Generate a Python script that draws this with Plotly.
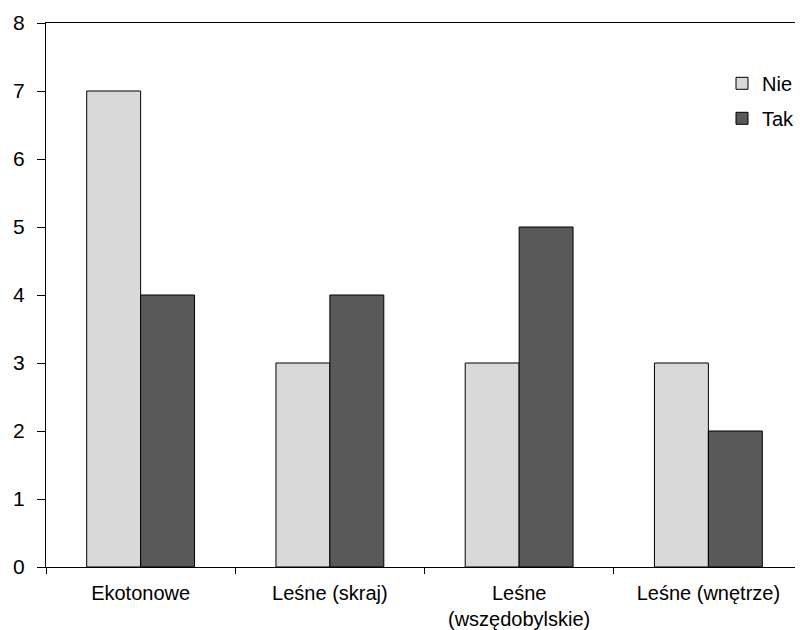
import plotly.graph_objects as go

categories = ["Ekotonowe", "Leśne (skraj)", "Leśne<br>(wszędobylskie)", "Leśne (wnętrze)"]
nie = [7, 3, 3, 3]
tak = [4, 4, 5, 2]
y_ticks = [0, 1, 2, 3, 4, 5, 6, 7, 8]

fig = go.Figure()
fig.add_trace(go.Bar(name="Nie", x=categories, y=nie, legendgroup="a",
                     marker=dict(color="#D9D9D9", line=dict(color="#000000", width=1))))
fig.add_trace(go.Bar(name="Tak", x=categories, y=tak, legendgroup="b",
                     marker=dict(color="#595959", line=dict(color="#000000", width=1))))

# page body has an 8px default margin, so the figure is sized to fit the window
fig.update_layout(
    width=795, height=622,
    margin=dict(l=38, r=0, t=15, b=63, autoexpand=False),
    paper_bgcolor="white", plot_bgcolor="white",
    barmode="group", bargap=0.43, bargroupgap=0,
    font=dict(family="Liberation Sans, Arial, sans-serif", color="#000000"),
    legend=dict(x=0.893, y=0.925, xanchor="left", yanchor="top",
                font=dict(size=20), bgcolor="rgba(0,0,0,0)", itemwidth=30,
                tracegroupgap=6),
    showlegend=True,
)
fig.update_xaxes(
    range=[-0.5, 3.5], showline=True, linecolor="black", linewidth=1, mirror=True,
    ticks="outside", tickson="boundaries", ticklen=6, tickcolor="black",
    tickfont=dict(size=20), showgrid=False, zeroline=False, automargin=False,
    ticklabelstandoff=8,
)
fig.update_yaxes(
    range=[0, 8], tickvals=y_ticks, showline=True, linecolor="black", linewidth=1,
    ticks="outside", ticklen=8, tickcolor="black", tickfont=dict(size=21),
    showgrid=False, zeroline=False, ticklabelstandoff=8, automargin=False,
)
fig.write_html("out.html")
